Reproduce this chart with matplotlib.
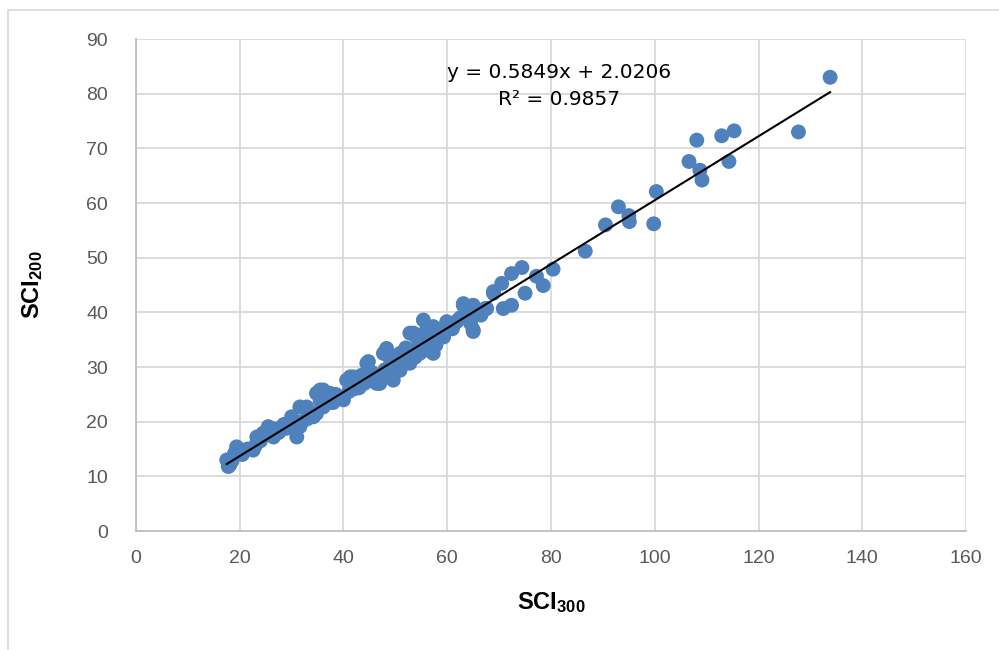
import matplotlib
matplotlib.use('Agg')
import matplotlib.pyplot as plt
import numpy as np
from matplotlib.patches import Rectangle

# SCI300 vs SCI200 pairs
sci300 = [17.8, 17.5, 18.1, 18.5, 19.4, 19.0, 20.5, 22.6, 23.3, 23.0, 24.5, 25.5, 26.5, 26.8,
          28.5, 30.0, 29.5, 31.0, 31.6, 31.6, 32.9, 33.5, 34.2, 34.8, 34.8, 35.5, 35.5, 36.1,
          36.1, 37.4, 37.0, 38.5,
          40.0, 40.6, 41.3, 41.9, 42.5, 43.0, 43.5, 44.5, 44.8, 44.2, 45.5, 46.4, 47.0, 47.7,
          47.5, 48.3, 48.3, 49.0, 49.6, 49.0, 50.2, 50.9, 50.9, 51.5, 52.0, 52.8, 52.8, 52.8,
          53.5, 53.2, 54.0, 54.7, 55.4, 55.0, 56.0, 56.7, 57.3, 57.3, 58.0, 58.5, 59.3, 59.9,
          60.5,
          61.8, 62.5, 63.1, 63.1, 64.0, 65.0, 65.0, 65.0, 66.0, 67.3, 67.6, 68.9, 68.9, 70.5,
          70.8, 72.4, 72.4, 74.4, 75.0, 77.2, 78.5, 80.4,
          86.6, 90.5, 93.0, 95.0, 95.1, 99.8, 100.3, 106.6, 108.1, 108.7, 109.1, 112.9, 114.3,
          115.3, 127.7, 133.8,
          21.5, 24.0, 27.5, 29.0, 32.0, 33.0, 36.5, 38.0, 39.0, 41.0, 42.0, 44.0, 45.5, 46.0,
          48.0, 49.5, 51.0, 53.8, 55.5, 56.5, 57.8, 59.0, 61.0, 62.0, 64.5, 66.5]
sci200 = [11.8, 13.0, 12.1, 12.8, 15.4, 14.2, 14.0, 14.8, 17.2, 15.6, 17.9, 19.1, 17.2, 18.7,
          19.5, 20.9, 19.8, 17.2, 19.1, 22.7, 22.7, 21.8, 20.9, 21.5, 25.2, 25.8, 23.8, 22.7,
          25.8, 25.2, 24.1, 25.0,
          24.0, 27.6, 28.2, 28.2, 27.0, 26.2, 28.5, 30.7, 31.0, 27.8, 29.0, 27.0, 27.0, 32.5,
          28.8, 33.4, 33.1, 30.1, 27.6, 31.5, 32.0, 29.4, 32.5, 30.5, 33.5, 30.7, 31.3, 36.2,
          36.2, 33.0, 35.5, 32.5, 38.6, 34.5, 36.8, 33.7, 32.5, 37.4, 35.0, 36.5, 35.5, 38.3,
          37.7,
          38.3, 39.0, 41.3, 41.6, 39.5, 41.3, 36.5, 36.8, 40.0, 40.7, 40.7, 43.8, 43.5, 45.3,
          40.7, 47.1, 41.3, 48.2, 43.5, 46.6, 44.9, 47.9,
          51.2, 56.0, 59.3, 57.7, 56.6, 56.2, 62.1, 67.6, 71.5, 66.0, 64.2, 72.3, 67.6,
          73.2, 73.0, 83.0,
          15.0, 16.5, 18.0, 18.8, 20.0, 20.5, 23.2, 23.5, 24.5, 25.5, 26.0, 27.0, 27.5, 28.5,
          29.5, 29.0, 31.0, 31.8, 33.0, 34.5, 34.0, 37.0, 37.0, 38.5, 38.0, 39.5]

slope = 0.5849
intercept = 2.0206
r2 = 0.9857

plt.rcParams['mathtext.fontset'] = 'custom'
plt.rcParams['mathtext.bf'] = 'Liberation Sans:bold'
plt.rcParams['mathtext.rm'] = 'Liberation Sans'

fig = plt.figure(figsize=(9.99, 6.5), dpi=100)
ax = fig.add_axes([0.1361, 0.183, 0.8309, 0.757])

# chart-area border
fig.patches.append(Rectangle((0.008, -0.1), 1.2, 1.0846, transform=fig.transFigure,
                             fill=False, edgecolor='#D9D9D9', linewidth=1.2))

ax.scatter(sci300, sci200, s=115, color='#4F81BD', edgecolors='none', zorder=3)

xs = np.array([min(sci300), max(sci300)])
ax.plot(xs, slope * xs + intercept, color='black', linewidth=1.5, zorder=4)

ax.set_xlim(0, 160)
ax.set_ylim(0, 90)
ax.set_xticks(range(0, 161, 20))
ax.set_yticks(range(0, 91, 10))
ax.grid(True, color='#D9D9D9', linewidth=1.3, zorder=0)
ax.set_axisbelow(True)
for side in ['top', 'right']:
    ax.spines[side].set_visible(False)
for side in ['left', 'bottom']:
    ax.spines[side].set_color('#BFBFBF')
    ax.spines[side].set_linewidth(1.3)
ax.tick_params(axis='y', length=0, pad=20, labelcolor='#595959')
ax.tick_params(axis='x', length=0, pad=14, labelcolor='#595959')
for lbl in ax.get_xticklabels() + ax.get_yticklabels():
    lbl.set_fontfamily('Liberation Sans')
    lbl.set_fontsize(14)

ax.set_xlabel(r'$\mathbf{SCI_{300}}$', fontsize=17, labelpad=16)
ax.set_ylabel(r'$\mathbf{SCI_{200}}$', fontsize=17, labelpad=30)

ax.text(81.5, 81.4, 'y = %.4fx + %.4f\nR² = %.4f' % (slope, intercept, r2),
        ha='center', va='center', fontsize=14.5, color='black',
        linespacing=1.5, fontfamily='DejaVu Sans')

fig.savefig('out.png', dpi=100)
